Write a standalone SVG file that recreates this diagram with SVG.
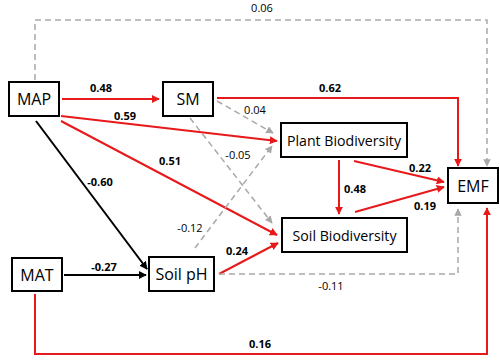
<svg xmlns="http://www.w3.org/2000/svg" width="500" height="360" viewBox="0 0 500 360">
<defs>
<marker id="ar" viewBox="0 0 10 10" refX="9" refY="5" markerWidth="4" markerHeight="4" orient="auto" markerUnits="strokeWidth"><path d="M0,0 L10,5 L0,10 z" fill="#e8191a"/></marker>
<marker id="ak" viewBox="0 0 10 10" refX="9" refY="5" markerWidth="4" markerHeight="4" orient="auto" markerUnits="strokeWidth"><path d="M0,0 L10,5 L0,10 z" fill="#000"/></marker>
<marker id="ag" viewBox="0 0 10 10" refX="9" refY="5" markerWidth="5" markerHeight="5" orient="auto" markerUnits="strokeWidth"><path d="M0,0 L10,5 L0,10 z" fill="#a8a8a8"/></marker>
</defs>
<style>
.box{fill:#fff;stroke:#000;stroke-width:2}
.nt{font-family:"Open Sans","Noto Sans",sans-serif;font-size:16px;fill:#000;text-anchor:middle;dominant-baseline:central}
.nl{font-size:15px}
.r{fill:none;stroke:#e8191a;stroke-width:2;marker-end:url(#ar)}
.k{fill:none;stroke:#000;stroke-width:2;marker-end:url(#ak)}
.g{fill:none;stroke:#a8a8a8;stroke-width:1.5;stroke-dasharray:6,4;marker-end:url(#ag)}
.lb{font-family:"Open Sans","Noto Sans",sans-serif;font-size:11px;font-weight:bold;fill:#000;text-anchor:middle}
.lg{font-family:"Open Sans","Noto Sans",sans-serif;font-size:11px;fill:#000;text-anchor:middle}
</style>
<rect width="500" height="360" fill="#fff"/>
<g id="connectors">
<path class="g" d="M35,80 V20 H487 V166"/>
<path class="r" d="M62,99 H159"/>
<path class="r" d="M217,98 H458 V166"/>
<path class="r" d="M61,116 L277,141"/>
<path class="r" d="M61,121 L277,235"/>
<path class="k" d="M36,121 L147,269"/>
<path class="k" d="M64,275 L146,275"/>
<path class="r" d="M219,274 L278,243"/>
<path class="g" d="M195,248 L272,146"/>
<path class="g" d="M217,101 L273,133"/>
<path class="g" d="M190,118 L272,223"/>
<path class="r" d="M339,160 V214"/>
<path class="r" d="M354,161 L444,182"/>
<path class="r" d="M355,212 L444,187"/>
<path class="g" d="M219,274 H458 V209"/>
<path class="r" d="M35,294 V354 H487 V208"/>
</g>
<g id="labels">
<text class="lg" x="262" y="12">0.06</text>
<text class="lb" x="101" y="92">0.48</text>
<text class="lb" x="330" y="92">0.62</text>
<text class="lb" x="125" y="120">0.59</text>
<text class="lg" x="255" y="114">0.04</text>
<text class="lg" x="238" y="159">-0.05</text>
<text class="lb" x="170" y="165">0.51</text>
<text class="lb" x="100" y="186">-0.60</text>
<text class="lg" x="190" y="232">-0.12</text>
<text class="lb" x="104" y="271">-0.27</text>
<text class="lb" x="237" y="255">0.24</text>
<text class="lb" x="355" y="193">0.48</text>
<text class="lb" x="420" y="172">0.22</text>
<text class="lb" x="425" y="210">0.19</text>
<text class="lg" x="331" y="290">-0.11</text>
<text class="lb" x="260" y="348">0.16</text>
</g>
<g id="MAP"><rect class="box" x="9" y="82" width="50" height="34"/><text class="nt" x="34" y="99">MAP</text></g>
<g id="SM"><rect class="box" x="163" y="82" width="50" height="34"/><text class="nt" x="188" y="99">SM</text></g>
<g id="PlantBiodiversity"><rect class="box" x="281" y="123" width="126" height="34"/><text class="nt nl" x="344" y="140" textLength="114" lengthAdjust="spacingAndGlyphs">Plant Biodiversity</text></g>
<g id="SoilBiodiversity"><rect class="box" x="282" y="218" width="125" height="34"/><text class="nt nl" x="344.5" y="235" textLength="104" lengthAdjust="spacingAndGlyphs">Soil Biodiversity</text></g>
<g id="EMF"><rect class="box" x="448" y="168" width="50" height="35"/><text class="nt" x="473" y="185.5">EMF</text></g>
<g id="MAT"><rect class="box" x="12" y="258" width="50" height="33"/><text class="nt" x="37" y="274.5">MAT</text></g>
<g id="SoilpH"><rect class="box" x="149" y="257" width="65" height="34"/><text class="nt" x="181.5" y="274">Soil pH</text></g>
</svg>
